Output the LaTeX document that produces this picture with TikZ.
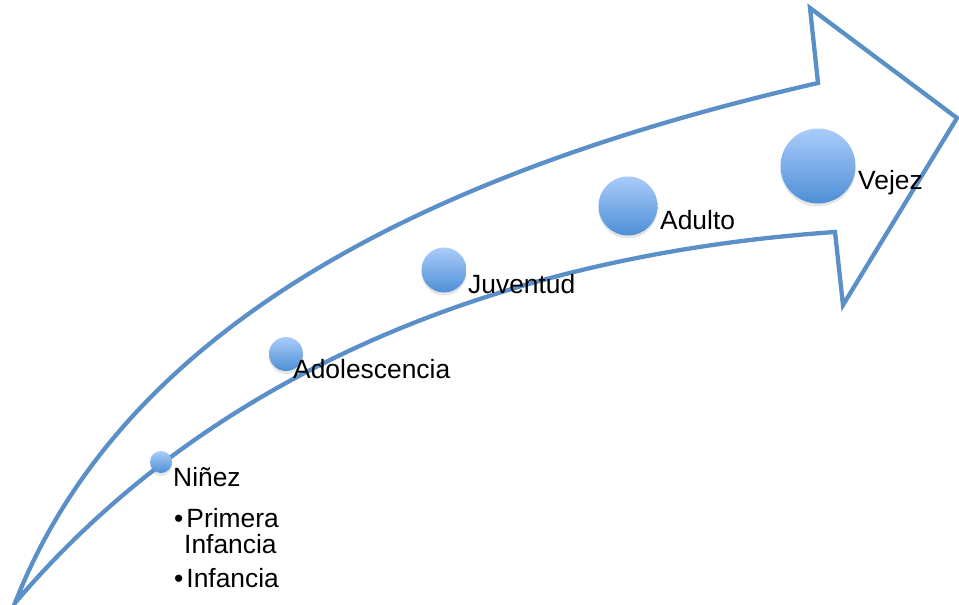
\documentclass[tikz,border=0pt]{standalone}
\usepackage{fontspec}
\setmainfont{Liberation Sans}
\usepackage{xcolor}
\usetikzlibrary{shadows}

\definecolor{arrowblue}{RGB}{91,143,199}
\definecolor{ballTop}{RGB}{170,204,250}
\definecolor{ballBottom}{RGB}{78,143,214}

\begin{document}
\begin{tikzpicture}[x=1pt,y=-1pt]
        \useasboundingbox (0,0) rectangle (959,605);

        % big curved arrow
        \draw[arrowblue, line width=4.3pt]
            (15,603) .. controls (130,310) and (460,165) .. (818,83)
            -- (810,8) -- (957,118) -- (843,305) -- (835,232)
            .. controls (430,260) and (170,420) .. (15,603) -- cycle;

        \begin{scope}[every node/.style = {circle, inner sep=0pt,
                        top color=ballTop, bottom color=ballBottom,
                        drop shadow={shadow xshift=0pt, shadow yshift=-3pt, opacity=.2}}]
            \node[minimum size=22pt] (N) at (161,462) {};
            \node[minimum size=34pt] (A) at (286,354) {};
            \node[minimum size=45pt] (J) at (444,270) {};
            \node[minimum size=59pt] (D) at (628,206) {};
            \node[minimum size=75pt] (V) at (818,166) {};
        \end{scope}

        \begin{scope}[every node/.style = {anchor=base west, inner sep=0pt,
                        font=\fontsize{26.4}{26.4}\selectfont}]
            \node (Nt) at (173,486) {Niñez};
            \node (P1) at (174,527) {•\hspace{3pt}Primera};
            \node (P2) at (184,553) {Infancia};
            \node (I1) at (174,587) {•\hspace{3pt}Infancia};

            \node (At) at (293,378) {Adolescencia};
            \node (Jt) at (468,293) {Juventud};
            \node (Dt) at (660,229) {Adulto};
            \node (Vt) at (858,189) {Vejez};
        \end{scope}
    \end{tikzpicture}
\end{document}
